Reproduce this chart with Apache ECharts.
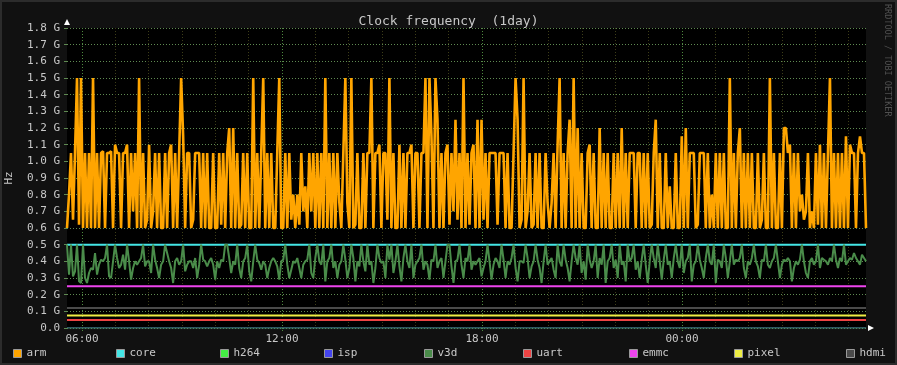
<!DOCTYPE html>
<html><head><meta charset="utf-8">
<script src="https://cdn.jsdelivr.net/npm/echarts@6/dist/echarts.min.js"></script>
<style>html,body{margin:0;padding:0;background:#111;}#c{width:897px;height:365px;}</style>
</head><body><div id="c"></div>
<script>
// ---- time span (hours since midnight of first day) ----
const startHour = 5.55;
const endHour = 29.52;
const majorHours = [6, 12, 18, 24];
const minorHours = [6,7,8,9,10,11,12,13,14,15,16,17,18,19,20,21,22,23,24,25,26,27,28,29];

// ---- y axis (GHz) ----
const yMin = 0, yMax = 1.8, yStep = 0.1;

// ---- series names ----
const seriesNames = ['arm','core','h264','isp','v3d','uart','emmc','pixel','hdmi'];

// ---- arm clock (GHz), evenly spaced over the day ----
const armValues = [
0.6,0.8,1.05,0.65,1.05,1.5,0.62,1.5,0.6,1.05,
0.6,1.05,0.6,1.5,0.6,1.05,0.6,1.05,1.06,0.6,
1.05,1.05,1.06,0.6,1.1,1.05,1.05,0.6,1.05,1.05,
1.1,0.6,1.05,0.7,1.05,0.6,1.5,0.6,1.05,0.6,
0.65,1.1,0.6,0.7,1.05,0.6,1.05,0.6,0.6,1.05,
0.6,1.05,1.1,0.6,1.05,0.6,1.05,1.5,1.15,0.6,
1.05,1.05,0.6,0.65,1.05,1.05,1.05,0.6,1.05,0.6,
1.05,0.6,0.6,1.05,0.6,0.6,1.05,0.62,1.05,0.6,
1.05,1.2,0.6,1.2,0.6,1.05,0.6,0.62,1.05,0.6,
1.05,0.6,0.6,1.5,0.6,1.05,0.6,1.05,1.5,0.6,
1.05,0.6,1.05,0.6,0.6,1.05,1.5,0.6,0.6,1.05,
0.6,1.05,0.65,0.8,0.6,0.8,0.62,1.05,0.7,0.85,
0.6,1.05,0.7,1.05,0.6,1.05,0.6,1.05,0.6,1.5,
0.6,1.05,0.6,1.05,0.6,1.05,0.75,0.6,1.05,1.5,
0.75,0.6,1.5,0.6,0.62,1.05,0.6,0.6,1.05,0.6,
1.05,1.05,1.5,0.6,1.05,1.05,1.1,0.6,1.05,1.05,
0.65,1.5,0.6,1.05,0.6,0.6,1.1,0.6,1.05,0.6,
1.05,1.05,1.1,0.6,1.05,1.05,0.6,1.05,1.05,1.5,
0.6,1.5,1.15,0.6,1.5,1.25,0.6,1.05,0.6,1.05,
1.1,0.62,1.05,0.7,1.25,0.65,1.05,0.6,1.5,0.6,
1.05,0.62,1.05,1.1,0.6,1.25,0.6,1.25,0.65,1.05,
0.6,1.05,1.05,1.05,1.05,0.62,1.05,1.05,1.05,0.6,
1.05,0.6,0.6,1.05,1.5,1.25,0.6,0.65,1.5,0.6,
0.7,1.05,0.6,0.62,1.05,0.6,1.05,0.6,0.6,1.05,
0.75,0.6,0.75,1.05,0.6,1.1,1.5,0.6,1.05,0.6,
1.05,1.25,0.6,1.5,0.6,1.2,0.6,1.05,0.6,0.6,
1.05,1.1,0.6,1.05,0.6,0.6,1.2,0.6,1.05,0.6,
1.05,0.6,0.6,1.05,0.6,1.05,0.6,1.2,0.6,1.05,
0.6,1.05,1.05,1.05,0.6,1.05,1.05,0.6,1.05,0.6,
1.05,0.6,0.62,1.05,1.25,0.6,1.05,0.6,0.6,1.05,
0.6,0.85,0.6,0.6,1.05,0.6,0.6,1.15,0.6,1.2,
0.6,1.05,1.05,1.05,0.6,0.62,1.05,1.05,1.05,0.6,
1.05,0.6,0.8,0.6,1.05,0.6,1.05,0.6,1.05,0.6,
0.6,1.5,0.6,1.05,0.6,1.05,1.2,0.6,1.05,0.6,
1.05,0.6,1.05,0.6,0.6,1.05,0.6,0.65,1.05,0.6,
0.6,1.5,0.6,1.05,0.6,0.6,1.05,0.6,1.2,1.2,
1.05,1.1,0.6,1.05,0.6,1.05,0.7,0.8,0.65,0.7,
1.05,0.6,0.7,0.6,1.05,0.62,1.1,0.6,1.05,0.6,
1.05,1.5,0.6,1.05,0.6,1.05,0.6,1.05,0.6,1.15,
0.6,1.1,1.05,1.05,0.6,1.05,1.15,1.05,1.05,0.6
];

// ---- v3d clock (GHz), evenly spaced over the day ----
const v3dValues = [
0.5,0.32,0.5,0.31,0.34,0.5,0.28,0.27,0.5,0.3,
0.27,0.33,0.36,0.35,0.45,0.32,0.38,0.41,0.4,0.42,
0.5,0.31,0.3,0.4,0.5,0.42,0.36,0.38,0.44,0.35,
0.5,0.4,0.29,0.36,0.4,0.38,0.4,0.42,0.5,0.37,
0.4,0.4,0.33,0.5,0.41,0.36,0.3,0.38,0.4,0.5,
0.45,0.4,0.36,0.27,0.4,0.42,0.38,0.4,0.5,0.34,
0.38,0.4,0.4,0.36,0.42,0.3,0.38,0.5,0.41,0.4,
0.37,0.4,0.42,0.38,0.29,0.4,0.36,0.41,0.4,0.5,
0.5,0.42,0.33,0.4,0.38,0.5,0.36,0.3,0.4,0.42,
0.5,0.34,0.28,0.4,0.5,0.41,0.39,0.35,0.4,0.38,
0.3,0.36,0.4,0.42,0.4,0.37,0.29,0.4,0.41,0.5,
0.38,0.3,0.35,0.4,0.39,0.42,0.36,0.3,0.38,0.4,
0.41,0.5,0.33,0.3,0.42,0.5,0.4,0.38,0.5,0.28,
0.4,0.42,0.5,0.36,0.4,0.3,0.38,0.4,0.5,0.41,
0.3,0.36,0.5,0.42,0.28,0.4,0.37,0.5,0.4,0.34,
0.5,0.38,0.4,0.27,0.36,0.5,0.42,0.39,0.4,0.3,
0.5,0.41,0.5,0.33,0.4,0.5,0.37,0.28,0.42,0.5,
0.4,0.36,0.5,0.3,0.38,0.4,0.42,0.5,0.35,0.4,
0.38,0.29,0.41,0.4,0.5,0.36,0.4,0.42,0.3,0.4,
0.5,0.5,0.37,0.27,0.4,0.41,0.5,0.38,0.3,0.42,
0.4,0.5,0.35,0.4,0.38,0.4,0.42,0.31,0.36,0.4,
0.5,0.4,0.29,0.38,0.42,0.4,0.36,0.5,0.41,0.3,
0.4,0.38,0.42,0.5,0.36,0.28,0.4,0.4,0.39,0.5,
0.42,0.3,0.37,0.4,0.5,0.41,0.36,0.27,0.4,0.5,
0.38,0.4,0.42,0.35,0.3,0.5,0.4,0.37,0.5,0.41,
0.36,0.28,0.4,0.5,0.42,0.38,0.5,0.33,0.4,0.29,
0.5,0.41,0.36,0.4,0.5,0.3,0.42,0.38,0.5,0.27,
0.4,0.42,0.5,0.36,0.41,0.3,0.5,0.38,0.4,0.28,
0.5,0.4,0.42,0.5,0.35,0.4,0.3,0.41,0.5,0.38,
0.27,0.4,0.5,0.42,0.36,0.5,0.4,0.29,0.41,0.5,
0.38,0.4,0.3,0.42,0.5,0.4,0.36,0.5,0.33,0.4,
0.42,0.5,0.28,0.38,0.4,0.5,0.41,0.36,0.3,0.42,
0.5,0.4,0.38,0.5,0.27,0.41,0.4,0.36,0.5,0.42,
0.3,0.4,0.5,0.38,0.41,0.4,0.42,0.5,0.36,0.3,
0.4,0.38,0.42,0.5,0.4,0.37,0.3,0.41,0.4,0.5,
0.38,0.36,0.4,0.42,0.5,0.4,0.3,0.38,0.41,0.4,
0.42,0.4,0.28,0.36,0.4,0.38,0.41,0.5,0.4,0.33,
0.3,0.4,0.42,0.38,0.4,0.5,0.36,0.42,0.41,0.4,
0.38,0.42,0.4,0.5,0.41,0.36,0.42,0.4,0.5,0.38,
0.4,0.42,0.41,0.45,0.42,0.4,0.38,0.44,0.42,0.4
];

// ---- constant clocks (GHz) ----
const coreValue = 0.5;
const h264Value = 0;
const ispValue = 0;
const uartValue = 0.048;
const emmcValue = 0.25;
const pixelValue = 0.075;
const hdmiValue = 0.12;

// ---- styling ----
const colors = {arm:'#ffa500', core:'#44e6e6', h264:'#44ee44', isp:'#4444ee', v3d:'#4a8c4a',
  uart:'#ee4444', emmc:'#ee44ee', pixel:'#eeee44', hdmi:'#4a4a4a'};
const legendLefts = [13, 116, 220, 324, 424, 523, 629, 734, 846];
const mono = '"DejaVu Sans Mono", monospace';

function spread(values) {
  const n = values.length;
  return values.map((v, i) => [startHour + i * (endHour - startHour) / (n - 1), v]);
}
function flat(v) { return [[startHour, v], [endHour, v]]; }
function hh(h) { const x = ((h % 24) + 24) % 24; return (x < 10 ? '0' : '') + x + ':00'; }

const chart = echarts.init(document.getElementById('c'), null, {renderer: 'canvas'});

function line(name, data, width) {
  return {
    name, type: 'line', data, xAxisIndex: 0, yAxisIndex: 0,
    showSymbol: false, symbol: 'none', sampling: null, animation: false, smooth: false,
    lineStyle: {color: colors[name], width: width, join: 'bevel', cap: 'butt'},
    itemStyle: {color: colors[name]},
    emphasis: {disabled: true}, silent: true
  };
}

const series = [
  line('arm', spread(armValues), 2.6),
  line('core', flat(coreValue), 2),
  line('h264', flat(h264Value), 1),
  line('isp', flat(ispValue), 1),
  line('v3d', spread(v3dValues), 2),
  line('uart', flat(uartValue), 2),
  line('emmc', flat(emmcValue), 2),
  line('pixel', flat(pixelValue), 2),
  line('hdmi', flat(hdmiValue), 2)
];
series[3].lineStyle.color = '#3a3aa0';

const legends = seriesNames.map((n, i) => ({
  data: [n], left: legendLefts[i], top: 348, orient: 'horizontal',
  icon: 'rect', itemWidth: 8, itemHeight: 8, itemGap: 5,
  itemStyle: {borderColor: '#9a9a9a', borderWidth: 1},
  textStyle: {color: '#c8c8c8', fontFamily: mono, fontSize: 11, padding: [0,0,0,0]},
  selectedMode: false, padding: 0, inactiveColor: '#444'
}));

const option = {
  backgroundColor: '#111111',
  animation: false,
  textStyle: {fontFamily: mono},
  title: {
    text: 'Clock frequency  (1day)', left: 'center', top: 10,
    textStyle: {color: '#c8c8c8', fontFamily: mono, fontSize: 13, fontWeight: 'normal'}
  },
  legend: legends,
  grid: {left: 67, right: 31, top: 28, bottom: 37, show: true, backgroundColor: '#000', borderWidth: 0,
    containLabel: false, outerBoundsMode: 'none'},
  xAxis: [
    {
      type: 'value', min: startHour, max: endHour, position: 'bottom',
      axisLine: {show: false},
      axisTick: {show: false, customValues: minorHours},
      axisLabel: {show: false, customValues: minorHours},
      splitLine: {show: true, lineStyle: {color: '#3d3d18', type: [1, 2], width: 1}}
    },
    {
      type: 'value', min: startHour, max: endHour, position: 'bottom',
      axisLine: {show: false},
      axisTick: {show: true, length: 3, customValues: majorHours, lineStyle: {color: '#4e8a3e', type: [1,1]}},
      axisLabel: {show: true, customValues: majorHours, formatter: hh, color: '#c8c8c8',
        fontFamily: mono, fontSize: 11, margin: 6},
      splitLine: {show: true, lineStyle: {color: '#4e8a3e', type: [1, 2], width: 1}}
    }
  ],
  yAxis: {
    type: 'value', min: yMin, max: yMax, interval: yStep,
    name: 'Hz', nameLocation: 'middle', nameGap: 52, nameRotate: 90,
    nameTextStyle: {color: '#c8c8c8', fontFamily: mono, fontSize: 11},
    axisLine: {show: false},
    axisTick: {show: true, length: 3, lineStyle: {color: '#5f8a52'}},
    axisLabel: {color: '#c8c8c8', fontFamily: mono, fontSize: 11, margin: 7,
      formatter: v => (Math.abs(v) < 1e-9 ? '0.0' : v.toFixed(1) + ' G')},
    splitLine: {show: true, lineStyle: {color: '#5f8a52', type: [1, 2], width: 1}}
  },
  graphic: [
    {type: 'rect', silent: true, shape: {x: 1, y: 1, width: 895, height: 363},
      style: {fill: 'none', stroke: '#2c2c2c', lineWidth: 2}, z: 100},
    {type: 'polygon', silent: true, shape: {points: [[64, 25], [70, 25], [67, 19]]},
      style: {fill: '#ffffff'}, z: 100},
    {type: 'polygon', silent: true, shape: {points: [[868, 325], [868, 331], [874, 328]]},
      style: {fill: '#ffffff'}, z: 100},
    {type: 'text', silent: true, x: 887, y: 4, rotation: -Math.PI / 2,
      style: {text: 'RRDTOOL / TOBI OETIKER', fill: '#505050', font: '8.5px ' + mono,
        textAlign: 'left', textVerticalAlign: 'middle'}, z: 100}
  ],
  series
};
chart.setOption(option);
</script>
</body></html>
